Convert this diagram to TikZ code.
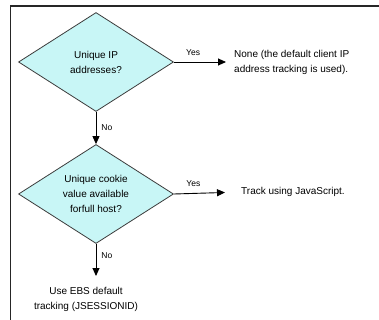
\documentclass[tikz,border=0pt]{standalone}
\usepackage{fontspec}
\setmainfont{Liberation Sans}
\usetikzlibrary{shapes.geometric,arrows.meta}
\definecolor{dfill}{RGB}{200,246,246}
\definecolor{dline}{RGB}{60,60,60}
\begin{document}
\begin{tikzpicture}[x=1pt,y=-1pt,
  every node/.style={font=\fontsize{10}{15}\selectfont},
  decision/.style={diamond,draw=dline,line width=0.8pt,fill=dfill,aspect=1.56,
    minimum width=155pt,minimum height=99pt,inner sep=0pt,align=center},
  outtext/.style={inner sep=0pt,align=left},
  conn/.style={line width=0.9pt,-{Triangle[length=8pt,width=7pt]}},
  lbl/.style={inner sep=0pt,font=\fontsize{8.5}{10}\selectfont}]
\useasboundingbox (0,0) rectangle (379,320);
\draw[line width=1.6pt,black!85] (10.5,320) -- (10.5,6) -- (379,6);
\node[decision] (d1) at (96,62) {Unique IP\\addresses?};
\node[decision] (d2) at (96,194) {Unique cookie\\value available\\forfull host?};
\node[outtext,anchor=west] (t1) at (234,62) {None (the default client IP\\address tracking is used).};
\node[outtext,anchor=west] (t2) at (241,192) {Track using JavaScript.};
\node[inner sep=0pt,align=center,anchor=north] (t3) at (86,287) {Use EBS default\\tracking (JSESSIONID)};
\draw[conn,shorten >=8pt] (d1.east) -- (t1.west) node[lbl,pos=0.32,above=6pt] (y1) {Yes};
\draw[conn,shorten >=16pt] (d2.east) -- (t2.west) node[lbl,pos=0.29,above=6pt] (y2) {Yes};
\draw[conn] (d1.south) -- (d2.north) node[lbl,midway,right=5pt] (n1) {No};
\coordinate (e3) at (d2.south |- 0,276);
\draw[conn] (d2.south) -- (e3) node[lbl,pos=0.35,right=5pt] (n2) {No};
\end{tikzpicture}
\end{document}
